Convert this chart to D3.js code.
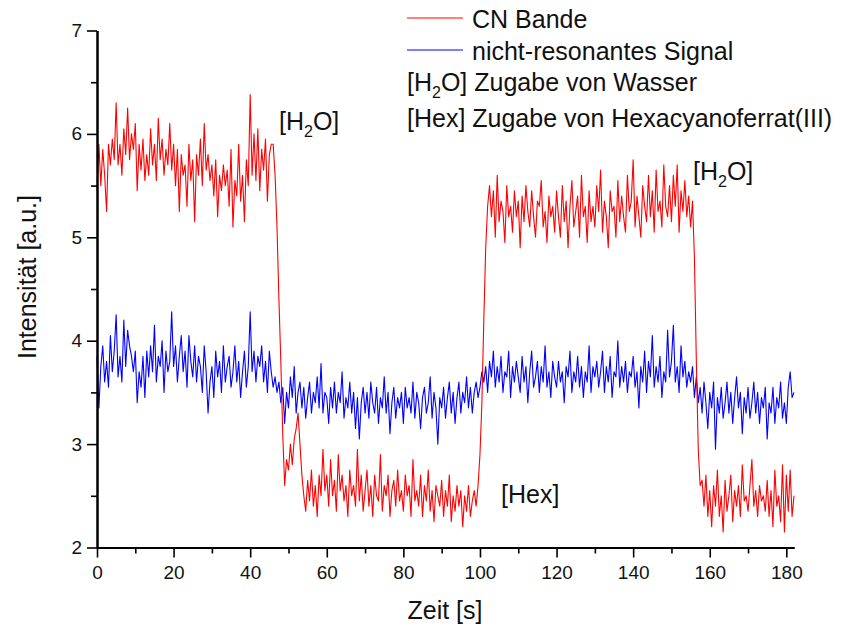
<!DOCTYPE html>
<html>
<head>
<meta charset="utf-8">
<script src="https://cdn.jsdelivr.net/npm/d3@7"></script>
<style>
  html, body { margin: 0; padding: 0; background: #fff; }
  svg { display: block; font-family: "Liberation Sans", Arial, sans-serif; }
</style>
</head>
<body>
<svg id="chart" width="846" height="628"></svg>
<script>
// ---- data ----
const sampleStep = 0.5; // seconds between samples
const cnBande = [
  5.45,5.9,5.5,5.85,5.6,5.25,5.9,5.7,5.95,5.75,6.3,5.7,5.9,5.6,6.05,5.8,6.25,5.75,6.0,5.85,
  6.1,5.45,5.9,5.65,5.95,5.55,5.8,5.6,6.05,5.7,5.9,5.55,6.15,5.75,5.95,5.6,5.85,5.7,6.1,5.65,
  5.9,5.5,5.85,5.25,5.8,5.6,5.7,5.3,5.9,5.55,5.75,5.15,5.8,5.6,5.95,5.5,6.1,5.65,5.8,5.55,
  5.7,5.4,5.75,5.2,5.6,5.45,5.7,5.5,5.65,5.3,5.85,5.1,5.55,5.4,5.9,5.35,5.6,5.15,5.75,5.5,
  6.38,5.6,6.0,5.55,6.05,5.45,5.85,5.65,5.95,5.35,5.8,5.9,5.9,5.6,5.1,4.4,3.8,3.1,2.6,2.85,
  2.75,3.0,2.8,3.05,3.15,3.3,3.0,2.7,2.5,2.35,2.65,2.45,2.75,2.4,2.6,2.3,2.7,2.5,2.95,2.55,
  2.7,2.4,2.85,2.5,2.65,2.35,2.9,2.55,2.7,2.45,2.6,2.3,2.75,2.5,2.6,2.4,2.95,2.45,2.7,2.35,
  2.55,2.75,2.4,2.6,2.3,2.7,2.5,2.45,2.9,2.35,2.6,2.5,2.7,2.3,2.55,2.65,2.4,2.75,2.45,2.55,
  2.35,2.7,2.5,2.6,2.3,2.85,2.45,2.55,2.4,2.7,2.3,2.6,2.45,2.75,2.35,2.55,2.25,2.6,2.5,2.4,
  2.65,2.3,2.55,2.4,2.7,2.25,2.5,2.35,2.6,2.4,2.55,2.2,2.5,2.35,2.6,2.3,2.45,2.55,2.4,2.6,
  2.9,3.4,4.2,4.9,5.3,5.5,5.2,5.45,5.0,5.6,5.15,5.35,5.25,4.95,5.5,5.2,5.3,5.05,5.45,5.2,
  5.35,4.9,5.4,5.15,5.5,5.25,5.1,5.45,5.2,5.0,5.35,5.3,5.55,5.1,5.25,4.95,5.4,5.2,5.3,5.05,
  5.45,5.2,5.0,5.5,5.15,5.35,4.9,5.3,5.55,5.1,5.25,5.4,5.0,5.6,5.2,5.3,4.95,5.45,5.15,5.3,
  5.1,5.5,5.25,5.65,5.05,5.35,5.2,4.9,5.45,5.25,5.3,5.0,5.55,5.15,5.4,5.2,5.05,5.6,5.25,5.35,
  5.75,5.1,5.4,5.2,5.0,5.5,5.3,5.15,5.6,5.2,5.45,5.05,5.65,5.25,5.35,5.1,5.7,5.3,5.2,5.5,
  5.15,5.6,5.3,5.7,5.05,5.45,5.25,5.55,5.2,5.4,5.1,5.35,4.8,3.8,2.95,2.6,2.65,2.4,2.7,2.3,
  2.55,2.2,2.6,2.4,2.75,2.3,2.5,2.15,2.65,2.35,2.5,2.7,2.25,2.55,2.4,2.6,2.3,2.8,2.45,2.5,
  2.35,2.6,2.85,2.4,2.55,2.3,2.6,2.45,2.5,2.35,2.65,2.3,2.55,2.2,2.75,2.4,2.5,2.25,2.8,2.15,
  2.7,2.35,2.75,2.3,2.5
];
const nichtResonant = [
  3.85,3.35,3.75,3.95,3.6,3.8,3.55,4.05,3.7,3.9,4.25,3.65,3.85,3.6,4.2,3.75,4.1,3.95,3.85,3.7,
  3.9,3.4,3.7,3.55,3.85,3.45,3.9,3.65,3.95,3.7,4.15,3.6,3.85,3.75,4.0,3.5,3.9,3.7,3.8,4.28,
  3.75,3.95,3.6,3.85,4.05,3.7,3.9,3.55,4.05,3.8,3.65,3.95,3.6,3.85,3.75,3.5,3.95,3.7,3.3,3.6,
  3.75,3.45,3.9,3.65,3.8,3.5,3.95,3.6,3.75,3.85,3.55,3.7,3.95,3.6,3.8,3.45,3.7,3.9,3.55,3.75,
  4.28,3.7,3.9,3.6,3.85,3.75,3.95,3.6,3.8,3.5,3.9,3.7,3.55,3.65,3.5,3.6,3.4,3.55,3.2,3.5,
  3.35,3.65,3.45,3.75,3.3,3.5,3.6,3.35,3.55,3.25,3.45,3.6,3.3,3.5,3.4,3.65,3.35,3.78,3.3,3.5,
  3.45,3.2,3.55,3.35,3.6,3.3,3.5,3.4,3.7,3.25,3.45,3.35,3.6,3.3,3.5,3.15,3.45,3.05,3.4,3.55,
  3.3,3.5,3.25,3.6,3.4,3.3,3.55,3.2,3.45,3.35,3.65,3.3,3.5,3.1,3.4,3.55,3.25,3.45,3.35,3.5,
  3.2,3.55,3.35,3.45,3.3,3.6,3.25,3.5,3.4,3.15,3.45,3.55,3.3,3.4,3.65,3.25,3.5,3.35,3.0,3.45,
  3.35,3.55,3.25,3.45,3.6,3.3,3.5,3.2,3.45,3.6,3.3,3.5,3.4,3.65,3.35,3.55,3.3,3.5,3.6,3.45,
  3.55,3.7,3.6,3.75,3.5,3.8,3.65,3.9,3.55,3.75,3.6,3.85,3.5,3.7,3.65,3.9,3.45,3.75,3.6,3.8,
  3.65,3.5,3.85,3.6,3.75,3.4,3.7,3.9,3.55,3.65,3.8,3.5,3.75,3.6,3.95,3.55,3.7,3.45,3.8,3.65,
  3.55,3.8,3.6,3.7,3.4,3.75,3.65,3.9,3.5,3.7,3.6,3.85,3.55,3.75,3.45,3.7,3.6,3.95,3.5,3.75,
  3.65,3.8,3.55,3.7,3.9,3.5,3.75,3.6,3.85,3.45,3.7,3.65,4.0,3.55,3.75,3.6,3.8,3.5,3.7,3.65,
  3.85,3.55,3.7,3.35,3.75,3.6,3.9,3.5,3.8,3.65,4.05,3.55,3.75,3.6,3.85,3.45,3.7,3.6,4.1,3.65,
  3.8,4.15,3.6,3.75,3.5,3.95,3.65,3.8,3.55,3.7,3.6,3.75,3.45,3.65,3.4,3.55,3.3,3.6,3.4,3.15,
  3.5,3.35,3.6,2.95,3.45,3.3,3.55,3.25,3.4,3.6,3.3,3.5,3.2,3.45,3.65,3.35,3.5,3.1,3.45,3.3,
  3.55,3.25,3.4,3.6,3.3,3.5,3.2,3.45,3.35,3.55,3.05,3.4,3.3,3.55,3.2,3.45,3.35,3.6,3.25,3.4,
  3.2,3.55,3.7,3.45,3.5
];
const xTicks = [0, 20, 40, 60, 80, 100, 120, 140, 160, 180];
const yTicks = [2, 3, 4, 5, 6, 7];
const seriesNames = ["CN Bande", "nicht-resonantes Signal"];
const seriesColors = ["#ff0000", "#0000ff"];
const xTitle = "Zeit [s]";
const yTitle = "Intensität [a.u.]";

// ---- chart ----
const svg = d3.select("#chart");
const FONT = 25, TICKFONT = 19;
const x = d3.scaleLinear().domain([0, 182]).range([97, 794]);
const y = d3.scaleLinear().domain([2, 7]).range([547.5, 30.5]);

const toPoints = vals => vals.map((v, i) => [i * sampleStep, v]);
const line = d3.line().x(d => x(d[0])).y(d => y(d[1]));

[[nichtResonant, 1], [cnBande, 0]].forEach(([vals, k]) => {
  svg.append("path")
    .attr("d", line(toPoints(vals)))
    .attr("fill", "none")
    .attr("stroke", seriesColors[k])
    .attr("stroke-width", 1.1)
    .attr("stroke-linejoin", "round");
});

// axes
const xAxis = d3.axisBottom(x).tickValues(xTicks).tickSize(10).tickPadding(8).tickSizeOuter(0).tickFormat(d3.format("d"));
const xMinor = d3.axisBottom(x).tickValues(d3.range(10, 182, 20)).tickSize(6).tickFormat("").tickSizeOuter(0);
const yAxis = d3.axisLeft(y).tickValues(yTicks).tickSize(10).tickPadding(5).tickSizeOuter(0).tickFormat(d3.format("d"));
const yMinor = d3.axisLeft(y).tickValues([2.5, 3.5, 4.5, 5.5, 6.5]).tickSize(6).tickFormat("").tickSizeOuter(0);

function styleAxis(g) {
  g.selectAll("path.domain").attr("stroke", "#000").attr("stroke-width", 2);
  g.selectAll(".tick line").attr("stroke", "#000").attr("stroke-width", 1.6);
  g.selectAll(".tick text").attr("font-size", TICKFONT).attr("fill", "#111")
    .attr("font-family", "Liberation Sans, Arial, sans-serif");
}
svg.append("g").attr("transform", `translate(0,${y(2)})`).call(xMinor).call(styleAxis);
svg.append("g").attr("transform", `translate(0,${y(2)})`).call(xAxis).call(styleAxis);
svg.append("g").attr("transform", `translate(${x(0)},0)`).call(yMinor).call(styleAxis);
svg.append("g").attr("transform", `translate(${x(0)},0)`).call(yAxis).call(styleAxis);

// axis titles
svg.append("text").attr("x", 445).attr("y", 619).attr("text-anchor", "middle")
  .attr("font-size", FONT).attr("fill", "#111").text(xTitle);
svg.append("text").attr("transform", "translate(36,277) rotate(-90)").attr("text-anchor", "middle")
  .attr("font-size", FONT).attr("fill", "#111").text(yTitle);

// helper for [H2O] text with subscript
function h2o(sel) {
  sel.append("tspan").text("[H");
  sel.append("tspan").attr("font-size", 16).attr("dy", 7).text("2");
  sel.append("tspan").attr("dy", -7).text("O]");
}

// legend
const lg = svg.append("g").attr("font-size", FONT).attr("fill", "#111");
[[18, 0], [50, 1]].forEach(([ly, k]) => {
  lg.append("line").attr("x1", 407).attr("x2", 463).attr("y1", ly).attr("y2", ly)
    .attr("stroke", seriesColors[k]).attr("stroke-width", 1);
  lg.append("text").attr("x", 472).attr("y", ly + 10).text(seriesNames[k]);
});
const t3 = lg.append("text").attr("x", 407).attr("y", 91);
h2o(t3);
t3.append("tspan").text(" Zugabe von Wasser");
lg.append("text").attr("x", 407).attr("y", 127).text("[Hex] Zugabe von Hexacyanoferrat(III)");

// annotations
const a1 = svg.append("text").attr("x", 279).attr("y", 130).attr("font-size", FONT).attr("fill", "#111");
h2o(a1);
const a2 = svg.append("text").attr("x", 693).attr("y", 180).attr("font-size", FONT).attr("fill", "#111");
h2o(a2);
svg.append("text").attr("x", 501).attr("y", 503).attr("font-size", FONT).attr("fill", "#111").text("[Hex]");
</script>
</body>
</html>
